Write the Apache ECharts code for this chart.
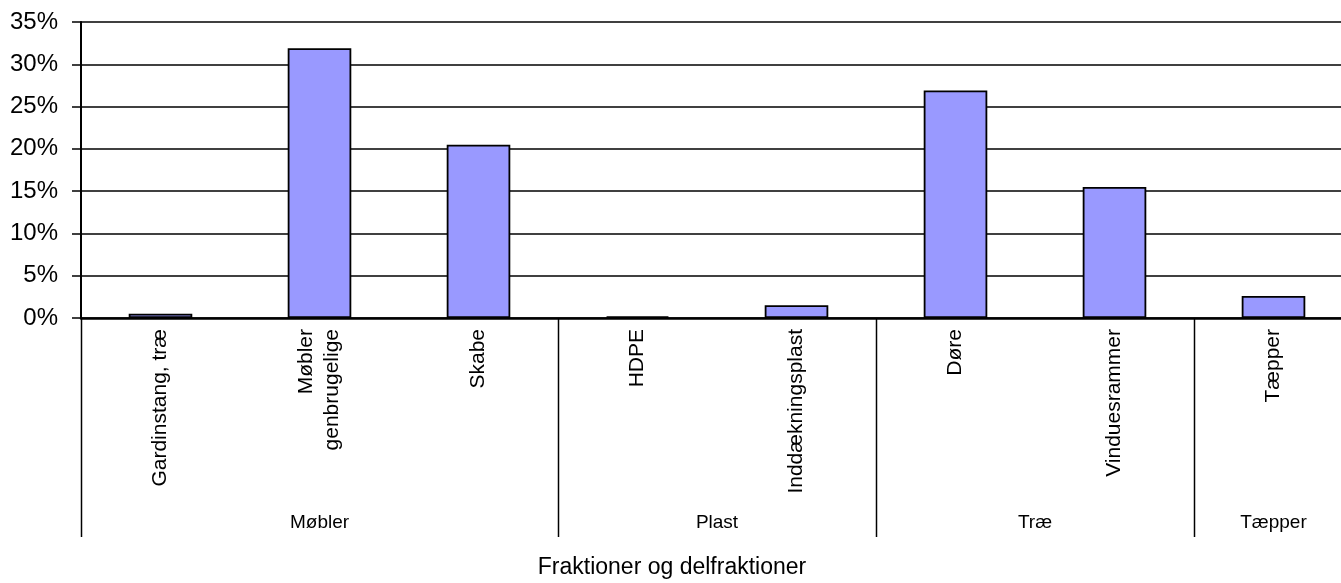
<!DOCTYPE html>
<html>
<head>
<meta charset="utf-8">
<script src="https://cdn.jsdelivr.net/npm/echarts@6/dist/echarts.min.js"></script>
<style>
  html, body { margin: 0; padding: 0; background: #fff; }
  #chart { width: 1341px; height: 583px; }
</style>
</head>
<body>
<div id="chart"></div>
<script>
// data
const categories = ['Gardinstang, træ', 'Møbler\ngenbrugelige', 'Skabe', 'HDPE', 'Inddækningsplast', 'Døre', 'Vinduesrammer', 'Tæpper']
const shares = [0.5, 31.9, 20.5, 0.2, 1.5, 26.9, 15.5, 2.6]
const groups = ['Møbler', 'Plast', 'Træ', 'Tæpper']
const groupSizes = [3, 2, 2, 1]
const axisTitle = 'Fraktioner og delfraktioner'

const font = 'Liberation Sans, Arial, sans-serif'
const myChart = echarts.init(document.getElementById('chart'))

let option = {
    animation: false,
    backgroundColor: '#fff',
    grid: {
        left: 81,
        top: 22,
        width: 1272,
        height: 296,
        outerBoundsMode: 'none',
        containLabel: false
    },
    xAxis: {
        type: 'category',
        data: categories,
        axisLine: { lineStyle: { color: '#000', width: 2.5 } },
        axisTick: { show: false },
        axisLabel: {
            rotate: 90,
            interval: 0,
            margin: 11,
            color: '#000',
            fontFamily: font,
            fontSize: 21,
            lineHeight: 26
        }
    },
    yAxis: {
        type: 'value',
        min: 0,
        max: 35,
        interval: 5,
        axisLine: { show: true, lineStyle: { color: '#000', width: 2 } },
        axisTick: { show: true, length: 9, lineStyle: { color: '#000', width: 1.5 } },
        splitLine: { lineStyle: { color: '#000', width: 1.5 } },
        axisLabel: {
            formatter: '{value}%',
            color: '#000',
            fontFamily: font,
            fontSize: 24,
            margin: 23
        }
    },
    series: [
        {
            type: 'bar',
            data: shares,
            barWidth: '40%',
            itemStyle: {
                color: '#9999FF',
                borderColor: '#000',
                borderWidth: 1.8
            }
        }
    ]
}

myChart.setOption(option)

// group separators and group names under the rotated labels
const graphics = []
const half = myChart.convertToPixel({ xAxisIndex: 0 }, 1) - myChart.convertToPixel({ xAxisIndex: 0 }, 0)
let start = 0
const bounds = [0]
groupSizes.forEach(n => { start += n; bounds.push(start) })
bounds.forEach((b, i) => {
    if (i === bounds.length - 1) return
    const x = Math.round(myChart.convertToPixel({ xAxisIndex: 0 }, b) - half / 2) + 0.5
    graphics.push({
        type: 'line',
        shape: { x1: x, y1: 318, x2: x, y2: 537 },
        style: { stroke: '#000', lineWidth: 1.5 }
    })
})
groups.forEach((g, i) => {
    const x0 = myChart.convertToPixel({ xAxisIndex: 0 }, bounds[i]) - half / 2
    const x1 = myChart.convertToPixel({ xAxisIndex: 0 }, bounds[i + 1]) - half / 2
    graphics.push({
        type: 'text',
        x: (x0 + x1) / 2,
        y: 523,
        style: { text: g, fill: '#000', font: '19px ' + font, align: 'center', verticalAlign: 'middle' }
    })
})
graphics.push({
    type: 'text',
    x: 672,
    y: 568,
    style: { text: axisTitle, fill: '#000', font: '23px ' + font, align: 'center', verticalAlign: 'middle' }
})

myChart.setOption({ graphic: graphics })
</script>
</body>
</html>
